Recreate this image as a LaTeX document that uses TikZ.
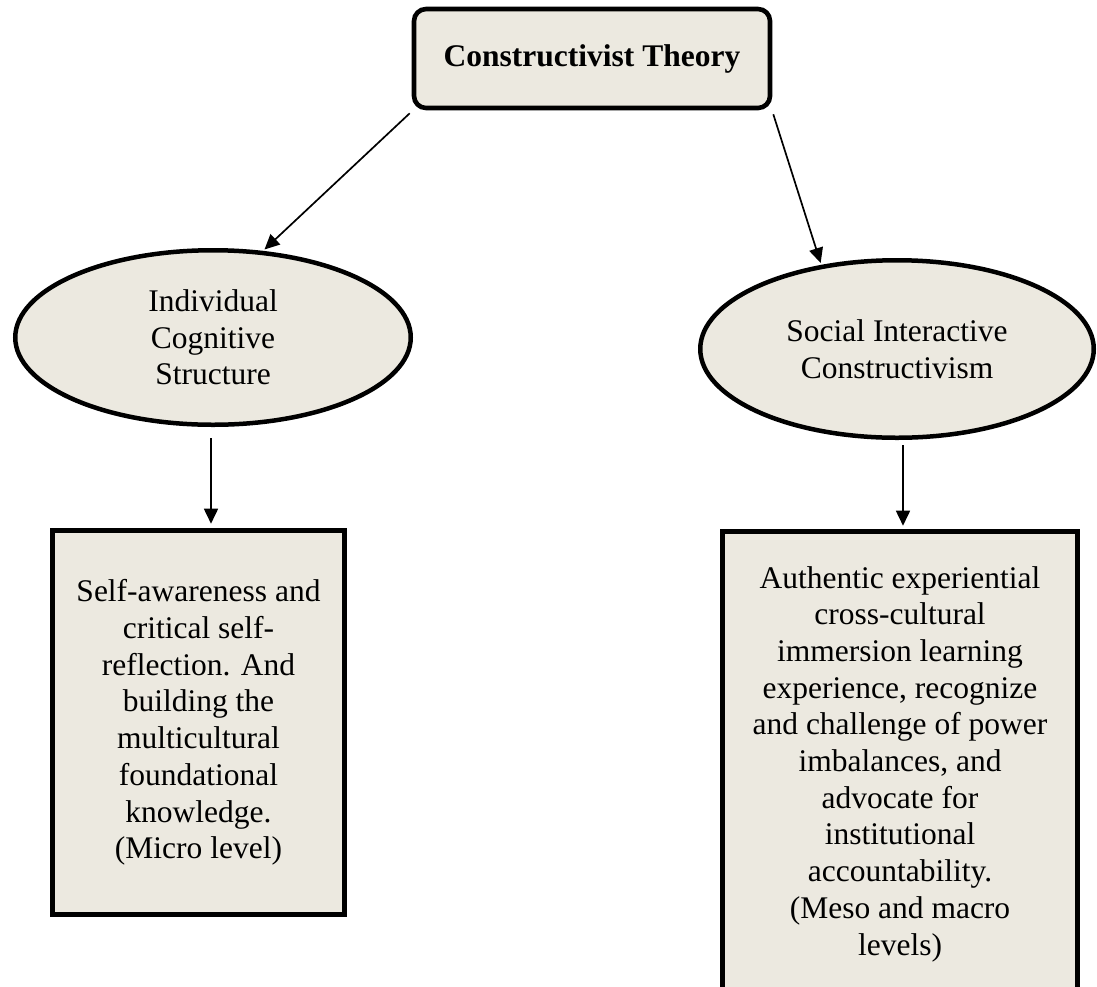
\documentclass[tikz,border=0pt]{standalone}
\usepackage{fontspec}
\setmainfont{Liberation Serif}
\usetikzlibrary{arrows.meta,shapes.geometric}
\definecolor{beige}{RGB}{236,233,224}
\begin{document}
\begin{tikzpicture}[x=1pt,y=-1pt,
  every node/.style={font=\fontsize{31.5}{36.7}\selectfont, align=center, inner sep=0pt},
  topbox/.style={draw, line width=4.6pt, fill=beige, rounded corners=12pt, minimum width=356pt, minimum height=99pt, font=\fontsize{31.5}{36.7}\selectfont\bfseries},
  ellbox/.style={draw, ellipse, line width=4.5pt, fill=beige},
  rectbox/.style={draw, line width=4.6pt, fill=beige, minimum width=#1},
  arr/.style={-{Triangle[length=15pt,width=14pt]}, line width=1.7pt}]
\useasboundingbox (0,0) rectangle (1097,986);
\clip (0,0) rectangle (1097,986);
\node[topbox] (top) at (592,58.5) {Constructivist Theory};
\node[ellbox, minimum width=395.5pt, minimum height=174.5pt] (ell1) at (213,337.5) {Individual\\Cognitive\\Structure};
\node[ellbox, minimum width=393.5pt, minimum height=177.5pt] (ell2) at (897,349) {Social Interactive\\Constructivism};
\node[rectbox=292pt, minimum height=384pt] (box1) at (198.5,722.5) {Self-awareness and\\critical self-\\reflection. And\\building the\\multicultural\\foundational\\knowledge.\\(Micro level)};
\node[rectbox=355pt, minimum height=465pt] (box2) at (900,764) {Authentic experiential\\cross-cultural\\immersion learning\\experience, recognize\\and challenge of power\\imbalances, and\\advocate for\\institutional\\accountability.\\(Meso and macro\\levels)};
\coordinate (a1s) at ([xshift=-2pt,yshift=-3pt]top.south west);
\coordinate (a2s) at ([xshift=1pt,yshift=-4pt]top.south east);
\coordinate (a3s) at ([xshift=-2pt,yshift=-11pt]ell1.south);
\coordinate (a3e) at (a3s |- box1.north);
\coordinate (a4s) at ([xshift=6pt,yshift=-5pt]ell2.south);
\coordinate (a4e) at (a4s |- box2.north);
\draw[arr, shorten >=2pt] (a1s) -- (ell1.60);
\draw[arr, shorten >=2pt] (a2s) -- (ell2.132);
\draw[arr] (a3s) -- ([yshift=4.5pt]a3e);
\draw[arr] (a4s) -- ([yshift=3.5pt]a4e);
\end{tikzpicture}
\end{document}
